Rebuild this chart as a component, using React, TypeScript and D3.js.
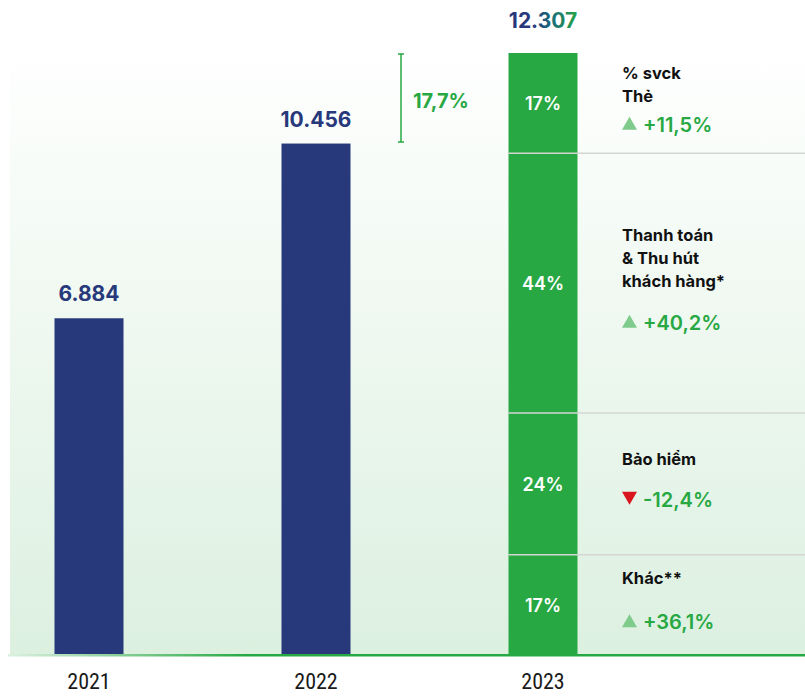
import React from 'react';
import * as d3 from 'd3';

const years = ['2021', '2022', '2023'];
const totals = [6884, 10456, 12307];
const totalLabels = ['6.884', '10.456', '12.307'];

const segNames = [['% svck', 'Thẻ'], ['Thanh toán', '& Thu hút', 'khách hàng*'], ['Bảo hiểm'], ['Khác**']];
const segShares = [17, 44, 24, 17];
const segChanges = ['+11,5%', '+40,2%', '-12,4%', '+36,1%'];
const segUp = [true, true, false, true];
const growthLabel = '17,7%';

const W = 805;
const H = 696;
const baseY = 655;
const topY = 53;
const barW = 69;
const navy = '#27387b';
const green = '#27a843';
const font = 'Inter, "Noto Sans", sans-serif';
// gap between last name line and the change line, per segment
const changeGap = [30, 43, 42, 45];

export default function App() {
    const x = d3.scalePoint().domain(years).range([89, 543]);
    const y = d3.scaleLinear().domain([0, d3.max(totals)]).range([baseY, topY]);

    // stack of 2023 shares, scaled to the 2023 bar
    const shareSum = d3.sum(segShares);
    const s = d3.scaleLinear().domain([0, shareSum]).range([topY, baseY]);
    const cum = d3.cumsum(segShares);
    const segs = segShares.map((v, i) => ({ y0: s(cum[i] - v), y1: s(cum[i]), v, i }));

    const x23 = x('2023');
    const textX = 622;

    return (
        <svg width={W} height={H} style={{ position: 'absolute', left: 0, top: 0 }} fontFamily={font}>
            <defs>
                <linearGradient id="bg" x1="0" y1="0" x2="0" y2="1">
                    <stop offset="0" stopColor="#ffffff" />
                    <stop offset="1" stopColor="#dcf0e0" />
                </linearGradient>
                <linearGradient id="base" x1="0" y1="0" x2="1" y2="0">
                    <stop offset="0" stopColor="#dcf0e0" />
                    <stop offset="0.3" stopColor={green} />
                    <stop offset="1" stopColor={green} />
                </linearGradient>
                <linearGradient id="tot" gradientUnits="userSpaceOnUse" x1={x23 - 30} y1="0" x2={x23 + 36} y2="0">
                    <stop offset="0.3" stopColor={navy} />
                    <stop offset="0.6" stopColor="#1a6f78" />
                    <stop offset="1" stopColor={green} />
                </linearGradient>
            </defs>
            <rect x={10} y={40} width={W - 10} height={baseY - 40} fill="url(#bg)" />

            {years.slice(0, 2).map((yr, i) => (
                <g key={yr}>
                    <rect x={x(yr) - barW / 2} y={y(totals[i])} width={barW} height={baseY - y(totals[i])} fill={navy} />
                    <text x={x(yr)} y={y(totals[i]) - 17} textAnchor="middle" fontSize={21} fontWeight={700} fill={navy}>
                        {totalLabels[i]}
                    </text>
                </g>
            ))}

            {segs.map(d => (
                <g key={d.i}>
                    <rect x={x23 - barW / 2} y={d.y0} width={barW} height={d.y1 - d.y0} fill={green} />
                    {d.i > 0 && <line x1={x23 - barW / 2} x2={W} y1={d.y0} y2={d.y0} stroke="#d4d6d4" strokeWidth={1.5} />}
                    <text x={x23} y={(d.y0 + d.y1) / 2 + 7} textAnchor="middle" fontSize={18} fontWeight={600} fill="#fff">
                        {d.v}%
                    </text>
                </g>
            ))}
            <text x={x23} y={28} textAnchor="middle" fontSize={21} fontWeight={700} fill="url(#tot)">
                {totalLabels[2]}
            </text>

            {segs.map(d => {
                const names = segNames[d.i];
                const c = (d.y0 + d.y1) / 2 + 2;
                const blockH = (names.length - 1) * 23 + changeGap[d.i];
                const ty = c - blockH / 2;
                const cy = ty + blockH;
                return (
                    <g key={'l' + d.i}>
                        {names.map((n, k) => (
                            <text key={k} x={textX} y={ty + k * 23} fontSize={16.5} fontWeight={700} fill="#111">
                                {n}
                            </text>
                        ))}
                        <path
                            d={segUp[d.i]
                                ? `M${textX},${cy - 2}L${textX + 15},${cy - 2}L${textX + 7.5},${cy - 15}Z`
                                : `M${textX},${cy - 15}L${textX + 15},${cy - 15}L${textX + 7.5},${cy - 2}Z`}
                            fill={segUp[d.i] ? '#7ecb8c' : '#d9161f'}
                        />
                        <text x={textX + 21} y={cy} fontSize={20} fontWeight={600} fill={green}>
                            {segChanges[d.i]}
                        </text>
                    </g>
                );
            })}

            <g stroke={green} strokeWidth={1.5}>
                <line x1={401} x2={401} y1={54} y2={142} />
                <line x1={398} x2={404} y1={54} y2={54} />
                <line x1={398} x2={404} y1={142} y2={142} />
            </g>
            <text x={413} y={108} fontSize={20} fontWeight={700} fill={green}>{growthLabel}</text>

            <rect x={8} y={baseY - 1} width={W - 8} height={2.5} fill="url(#base)" />

            {years.map(yr => (
                <text key={yr} x={x(yr)} y={689} textAnchor="middle" fontSize={22} fontWeight={400}
                    fontFamily='"Liberation Sans Narrow", "Roboto Condensed", Roboto, sans-serif' fill="#1a1a1a">
                    {yr}
                </text>
            ))}
        </svg>
    );
}
